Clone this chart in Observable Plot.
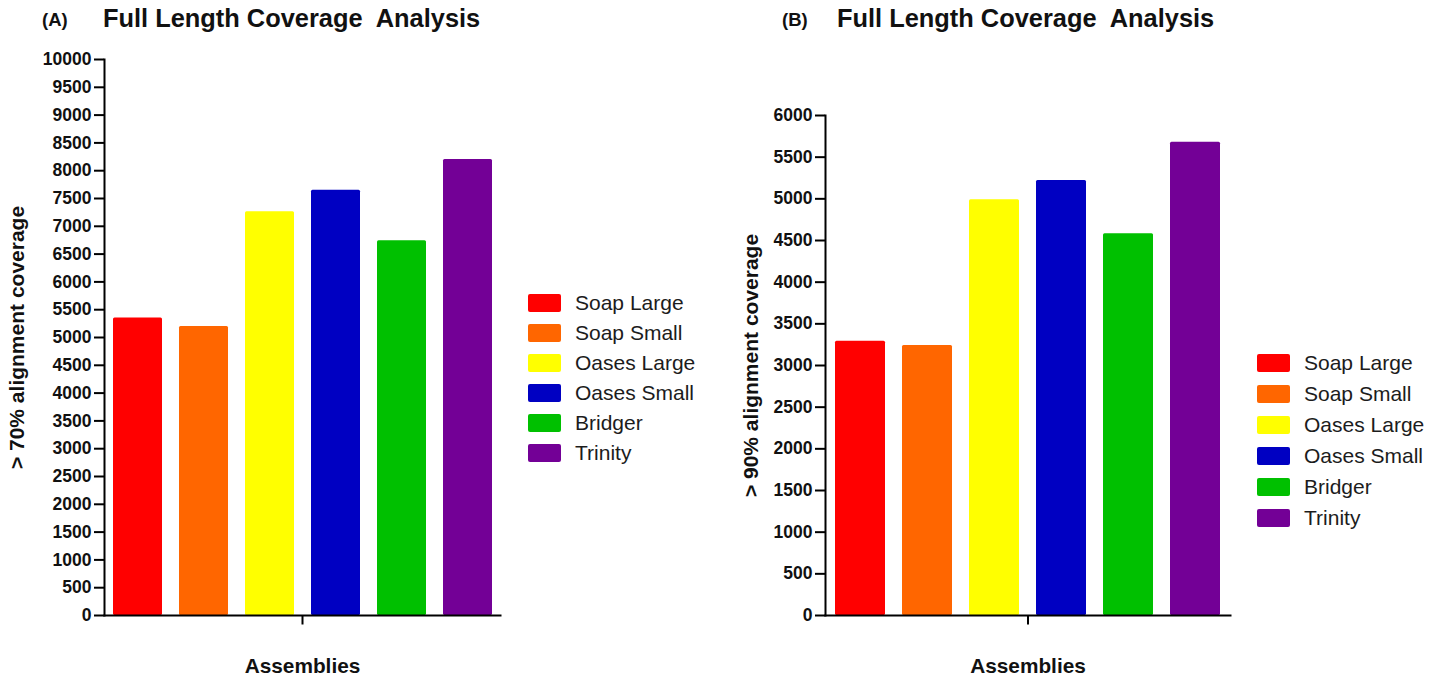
<!DOCTYPE html>
<html>
<head>
<meta charset="utf-8">
<script src="https://cdn.jsdelivr.net/npm/d3@7"></script>
<script src="https://cdn.jsdelivr.net/npm/@observablehq/plot@0.6"></script>
<style>
  body { margin: 0; background: white; }
  #root { position: relative; width: 1445px; height: 678px; font-family: "Liberation Sans", Arial, sans-serif; overflow: hidden; }
  .abs { position: absolute; }
  .panelTag { font-weight: bold; font-size: 18.5px; line-height: 1; color: #111; }
  .mainTitle { font-weight: bold; font-size: 25.4px; line-height: 1; color: #111; white-space: pre; }
  .legend .row { display: flex; align-items: center; }
  .legend .sw { width: 33px; height: 18px; border-radius: 2px; flex: none; }
  .legend .lab { margin-left: 14px; font-size: 21px; color: #1c1c1c; white-space: nowrap; }
</style>
</head>
<body>
<div id="root"></div>
<script>
// ---- data ----
const assemblies = ["Soap Large", "Soap Small", "Oases Large", "Oases Small", "Bridger", "Trinity"];
const colors = ["#FF0000", "#FF6600", "#FFFF00", "#0000C2", "#00C000", "#730096"];
const valuesA = [5350, 5200, 7260, 7650, 6740, 8200];
const valuesB = [3290, 3240, 4990, 5220, 4580, 5680];
const ticksA = [0, 500, 1000, 1500, 2000, 2500, 3000, 3500, 4000, 4500, 5000, 5500, 6000, 6500, 7000, 7500, 8000, 8500, 9000, 9500, 10000];
const ticksB = [0, 500, 1000, 1500, 2000, 2500, 3000, 3500, 4000, 4500, 5000, 5500, 6000];
const titleText = "Full Length Coverage  Analysis";
const xLabel = "Assemblies";
const yLabelA = "> 70% alignment coverage";
const yLabelB = "> 90% alignment coverage";

const root = document.getElementById("root");
const FONT = "'Liberation Sans', Arial, sans-serif";

const tickSymbol = { draw(ctx) { ctx.moveTo(0, 0); ctx.lineTo(0, 9); } };

function panel({values, ticks, yMax, yLabel, width, marginLeft, marginRight, marginTop, ylabDx}) {
  const data = assemblies.map((name, i) => ({name, value: values[i]}));
  return Plot.plot({
    width, height: 678,
    marginLeft, marginRight, marginTop, marginBottom: 63,
    style: {background: "transparent", color: "black", fontFamily: FONT, overflow: "visible"},
    x: {domain: assemblies, paddingInner: 0.26, paddingOuter: 0.13, axis: null},
    y: {domain: [0, yMax], axis: null},
    color: {domain: assemblies, range: colors},
    marks: [
      Plot.barY(data, {x: "name", y: "value", fill: "name", rx: 1.5}),
      Plot.axisY({ticks, tickFormat: d => String(d), tickSize: 10, tickPadding: 3, strokeWidth: 2,
                  fontSize: 17.5, fontWeight: "bold", label: null, fill: "#111"}),
      Plot.frame({anchor: "left", strokeWidth: 2}),
      Plot.frame({anchor: "bottom", strokeWidth: 2}),
      Plot.dot([0], {frameAnchor: "bottom", symbol: tickSymbol, stroke: "black", strokeWidth: 2, fill: "none"}),
      Plot.text([xLabel], {frameAnchor: "bottom", dy: 57, lineAnchor: "bottom", fontSize: 20.8, fontWeight: "bold", fill: "#111"}),
      Plot.text([yLabel], {frameAnchor: "left", dx: ylabDx, rotate: -90, textAnchor: "middle", lineAnchor: "middle",
                           fontSize: 21, fontWeight: "bold", fill: "#111"})
    ]
  });
}

function place(el, left, top) {
  el.classList.add("abs");
  el.style.left = left + "px";
  el.style.top = top + "px";
  root.appendChild(el);
  return el;
}

const pA = panel({values: valuesA, ticks: ticksA, yMax: 10000, yLabel: yLabelA, width: 720,
                  marginLeft: 104, marginRight: 220, marginTop: 59, ylabDx: -87});
place(pA, 0, 0);
const pB = panel({values: valuesB, ticks: ticksB, yMax: 6000, yLabel: yLabelB, width: 725,
                  marginLeft: 105, marginRight: 215, marginTop: 115, ylabDx: -74});
place(pB, 720, 0);

function textDiv(cls, txt) { const d = document.createElement("div"); d.className = cls; d.textContent = txt; return d; }
place(textDiv("panelTag", "(A)"), 42, 11);
place(textDiv("mainTitle", titleText), 103, 6);
place(textDiv("panelTag", "(B)"), 782, 11);
place(textDiv("mainTitle", titleText), 837, 6);

function legend(left, top, rowH) {
  const lg = document.createElement("div");
  lg.className = "legend";
  assemblies.forEach((name, i) => {
    const row = document.createElement("div");
    row.className = "row";
    row.style.height = rowH + "px";
    const sw = document.createElement("div");
    sw.className = "sw";
    sw.style.background = colors[i];
    const lab = document.createElement("div");
    lab.className = "lab";
    lab.textContent = name;
    row.appendChild(sw); row.appendChild(lab);
    lg.appendChild(row);
  });
  place(lg, left, top);
}
legend(528, 288, 30);
legend(1257, 347, 31);
</script>
</body>
</html>
